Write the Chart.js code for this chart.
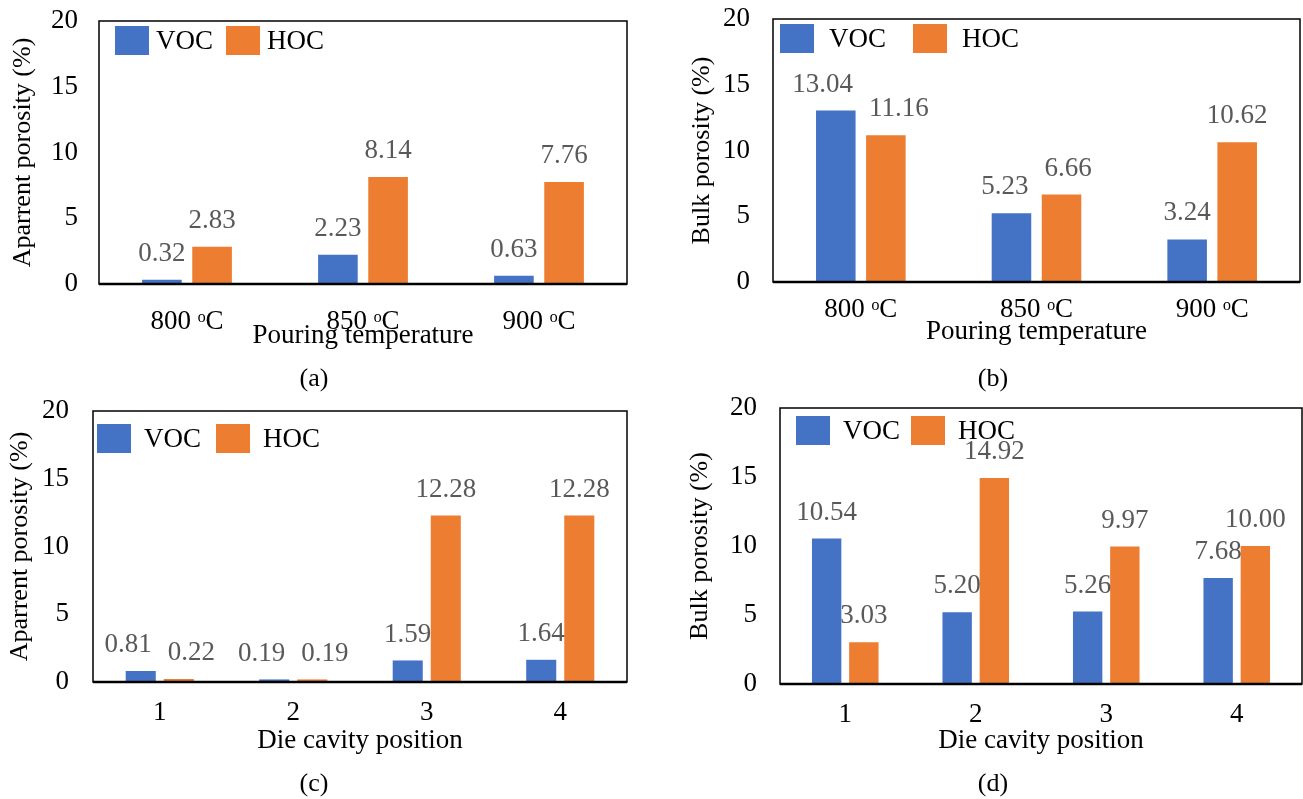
<!DOCTYPE html>
<html>
<head>
<meta charset="utf-8">
<script src="https://cdn.jsdelivr.net/npm/chart.js@4"></script>
<style>
    body { margin: 0; background: #fff; width: 1303px; height: 799px; position: relative; overflow: hidden; }
    canvas { position: absolute; }
    .caption { position: absolute; font-family: 'Liberation Serif', 'Times New Roman', serif; font-size: 26px; color: #000; transform: translate(-50%, -50%); }
</style>
</head>
<body>
<canvas id="chartA" width="650" height="400" style="left:0;top:0"></canvas>
<canvas id="chartB" width="653" height="400" style="left:650px;top:0"></canvas>
<canvas id="chartC" width="650" height="404" style="left:0;top:395px"></canvas>
<canvas id="chartD" width="653" height="404" style="left:650px;top:395px"></canvas>
<div class="caption" style="left:314px;top:378px">(a)</div>
<div class="caption" style="left:993px;top:378px">(b)</div>
<div class="caption" style="left:314px;top:783px">(c)</div>
<div class="caption" style="left:993px;top:783px">(d)</div>
<script>
// Categories
const tempLabels = ['800 \u1D52C', '850 \u1D52C', '900 \u1D52C'];
const cavityLabels = ['1', '2', '3', '4'];

// (a) apparent porosity vs pouring temperature
const apparentTempVOC = [0.32, 2.23, 0.63];
const apparentTempHOC = [2.83, 8.14, 7.76];
// (b) bulk porosity vs pouring temperature
const bulkTempVOC = [13.04, 5.23, 3.24];
const bulkTempHOC = [11.16, 6.66, 10.62];
// (c) apparent porosity vs die cavity position
const apparentCavityVOC = [0.81, 0.19, 1.59, 1.64];
const apparentCavityHOC = [0.22, 0.19, 12.28, 12.28];
// (d) bulk porosity vs die cavity position
const bulkCavityVOC = [10.54, 5.20, 5.26, 7.68];
const bulkCavityHOC = [3.03, 14.92, 9.97, 10.00];

// y axis range
const yMin = 0;
const yMax = 20;
const yStep = 5;

const vocColor = '#4472C4';
const hocColor = '#ED7D31';
const serif = "'Liberation Serif', 'Times New Roman', serif";

Chart.defaults.font.family = serif;
Chart.defaults.color = '#000';

// black box round the plot area, thicker bottom line
const framePlugin = {
    id: 'frame',
    afterDatasetsDraw(chart) {
        const { ctx, chartArea: a } = chart;
        ctx.save();
        ctx.strokeStyle = '#000';
        ctx.lineWidth = 1.5;
        ctx.strokeRect(a.left, a.top, a.right - a.left, a.bottom - a.top);
        ctx.lineWidth = 2.5;
        ctx.beginPath();
        ctx.moveTo(a.left, a.bottom);
        ctx.lineTo(a.right, a.bottom);
        ctx.stroke();
        ctx.restore();
    }
};

// value labels above each bar, pushed apart sideways when two collide
const valueLabels = {
    id: 'valueLabels',
    afterDatasetsDraw(chart) {
        const ctx = chart.ctx;
        ctx.save();
        ctx.font = '27px ' + serif;
        ctx.fillStyle = '#595959';
        ctx.textAlign = 'center';
        ctx.textBaseline = 'middle';
        const voc = chart.getDatasetMeta(0).data;
        const hoc = chart.getDatasetMeta(1).data;
        voc.forEach((bar, j) => {
            const t1 = chart.data.datasets[0].data[j].toFixed(2);
            const t2 = chart.data.datasets[1].data[j].toFixed(2);
            let x1 = bar.x, x2 = hoc[j].x;
            const y1 = bar.y - 26, y2 = hoc[j].y - 26;
            const need = (ctx.measureText(t1).width + ctx.measureText(t2).width) / 2 + 16;
            if (Math.abs(y1 - y2) < 26 && x2 - x1 < need) {
                const shift = (need - (x2 - x1)) / 2;
                x1 -= shift;
                x2 += shift;
            }
            ctx.fillText(t1, x1, y1);
            ctx.fillText(t2, x2, y2);
        });
        ctx.restore();
    }
};

// legend drawn inside the plot area
const insideLegend = {
    id: 'insideLegend',
    afterDraw(chart, args, opts) {
        const { ctx, chartArea: a } = chart;
        ctx.save();
        ctx.font = '27px ' + serif;
        ctx.textBaseline = 'middle';
        let x = a.left + opts.x;
        const y = a.top + opts.y;
        chart.data.datasets.forEach((ds, i) => {
            ctx.fillStyle = ds.backgroundColor;
            ctx.fillRect(x, y, 34, 29);
            x += 34 + opts.textGap;
            ctx.fillStyle = '#000';
            ctx.fillText(ds.label, x, y + 16);
            x += ctx.measureText(ds.label).width + opts.itemGap;
        });
        ctx.restore();
    }
};

function makePanel(id, labels, voc, hoc, yTitle, xTitle, geo) {
    return new Chart(document.getElementById(id), {
        type: 'bar',
        data: {
            labels: labels,
            datasets: [
                { label: 'VOC', data: voc, backgroundColor: vocColor },
                { label: 'HOC', data: hoc, backgroundColor: hocColor }
            ]
        },
        options: {
            responsive: false,
            animation: false,
            devicePixelRatio: 1,
            categoryPercentage: 0.57,
            barPercentage: 0.79,
            layout: { padding: geo.padding },
            plugins: {
                legend: { display: false },
                tooltip: { enabled: false },
                insideLegend: geo.legend
            },
            scales: {
                x: {
                    grid: { display: false, drawTicks: false },
                    border: { display: false },
                    ticks: { font: { size: 27 }, padding: geo.xTickPad, color: '#000' },
                    title: { display: true, text: xTitle, font: { size: 27 }, color: '#000', padding: { top: 0, bottom: 0 } },
                    afterFit: s => { s.height = geo.xHeight; }
                },
                y: {
                    min: yMin,
                    max: yMax,
                    grid: { display: false, drawTicks: false },
                    border: { display: false },
                    ticks: { stepSize: yStep, font: { size: 27 }, padding: geo.yTickPad, color: '#000' },
                    title: { display: true, text: yTitle, font: { size: 26 }, color: '#000', padding: { top: geo.yTitlePad, bottom: 0 } },
                    afterFit: s => {
                        s.width = geo.yWidth;
                        s.paddingTop = 0;
                        s.paddingBottom = 0;
                    }
                }
            }
        },
        plugins: [framePlugin, valueLabels, insideLegend]
    });
}

makePanel('chartA', tempLabels, apparentTempVOC, apparentTempHOC,
    'Aparrent porosity (%)', 'Pouring temperature', {
        padding: { top: 21, right: 23, bottom: 48, left: 0 },
        yWidth: 99, yTickPad: 21, yTitlePad: 8,
        xHeight: 68, xTickPad: 22,
        legend: { x: 16, y: 5, textGap: 7, itemGap: 13 }
    });

makePanel('chartB', tempLabels, bulkTempVOC, bulkTempHOC,
    'Bulk porosity (%)', 'Pouring temperature', {
        padding: { top: 19, right: 3, bottom: 52, left: 0 },
        yWidth: 123, yTickPad: 23, yTitlePad: 37,
        xHeight: 66, xTickPad: 12,
        legend: { x: 7, y: 5, textGap: 15, itemGap: 27 }
    });

makePanel('chartC', cavityLabels, apparentCavityVOC, apparentCavityHOC,
    'Aparrent porosity (%)', 'Die cavity position', {
        padding: { top: 16, right: 23, bottom: 42, left: 0 },
        yWidth: 93, yTickPad: 24, yTitlePad: 5,
        xHeight: 75, xTickPad: 15,
        legend: { x: 4, y: 13, textGap: 13, itemGap: 15 }
    });

makePanel('chartD', cavityLabels, bulkCavityVOC, bulkCavityHOC,
    'Bulk porosity (%)', 'Die cavity position', {
        padding: { top: 13, right: 1, bottom: 42, left: 0 },
        yWidth: 130, yTickPad: 23, yTitlePad: 35,
        xHeight: 73, xTickPad: 15,
        legend: { x: 16, y: 8, textGap: 13, itemGap: 11 }
    });
</script>
</body>
</html>
